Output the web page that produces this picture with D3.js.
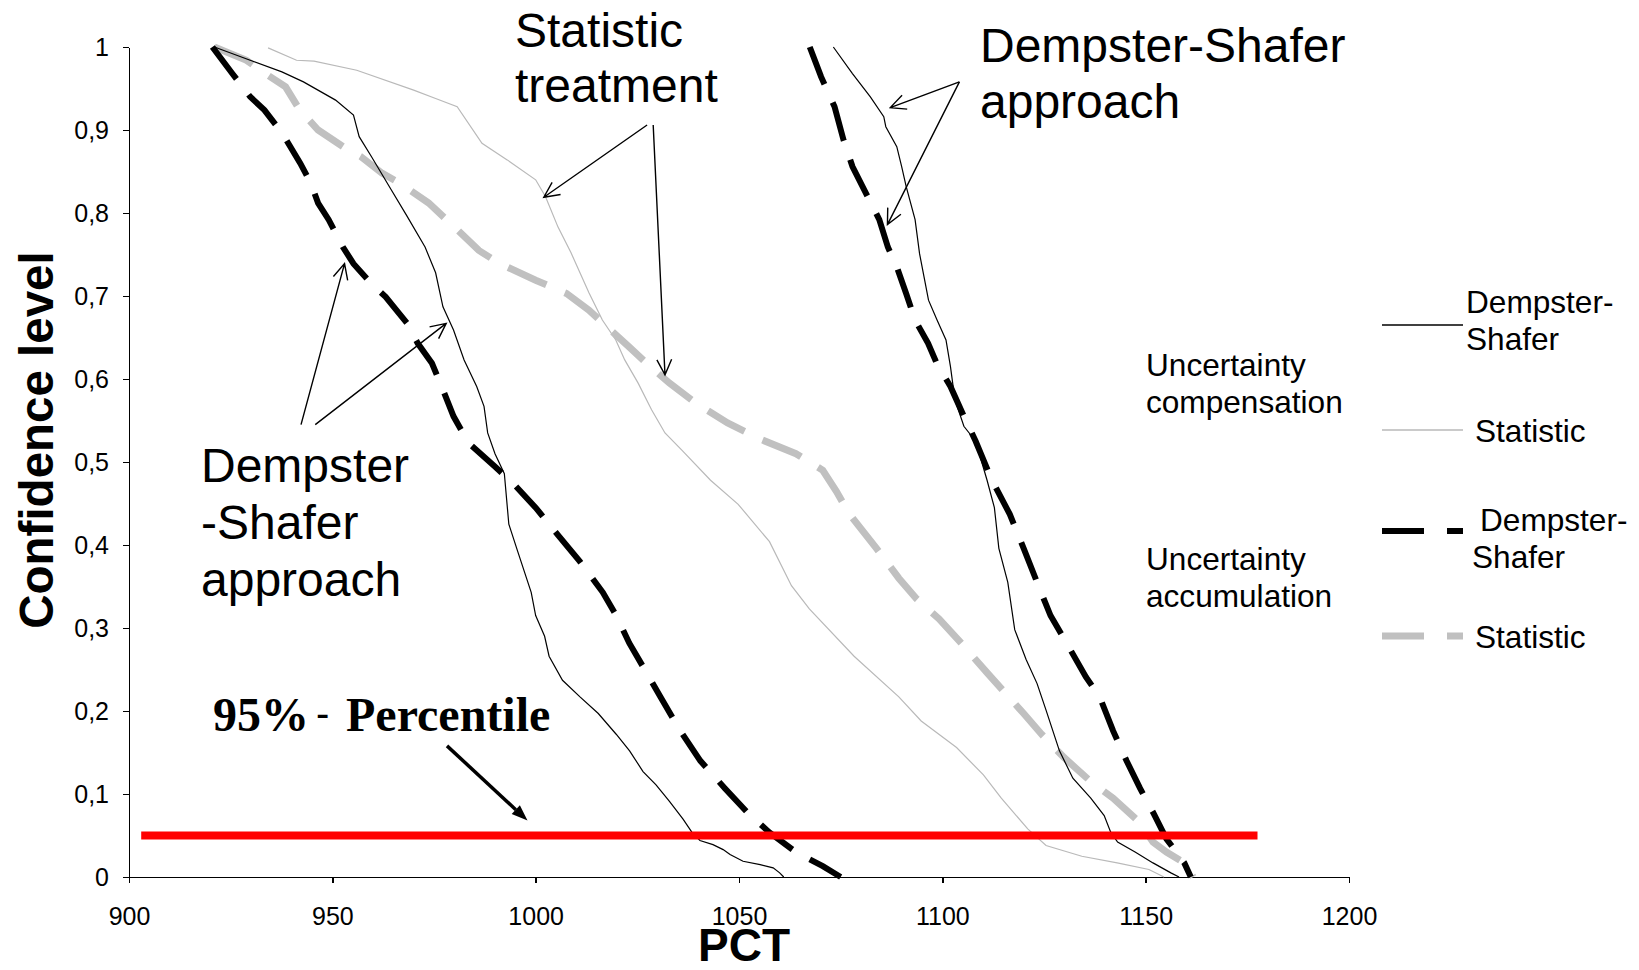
<!DOCTYPE html>
<html lang="en">
<head>
<meta charset="UTF-8">
<title>Confidence level vs PCT</title>
<style>
  body { margin: 0; background: #fff; }
  svg { display: block; font-family: Arial, "Liberation Sans", sans-serif; }
  .axis path, .axis line { stroke: #000; stroke-width: 1.5; shape-rendering: crispEdges; }
  .axis text { font-size: 25px; fill: #000; font-family: Arial, "Liberation Sans", sans-serif; }
  .note { font-size: 48px; fill: #000; }
  .legend text { font-size: 31.6px; fill: #000; }
</style>
</head>
<body>
<svg width="1639" height="970"></svg>
<script src="https://d3js.org/d3.v7.min.js"></script>
<script>
// axis ticks
const xTicks = [900, 950, 1000, 1050, 1100, 1150, 1200];
const yTicks = [0, 0.1, 0.2, 0.3, 0.4, 0.5, 0.6, 0.7, 0.8, 0.9, 1];
const yTickLabels = ["0", "0,1", "0,2", "0,3", "0,4", "0,5", "0,6", "0,7", "0,8", "0,9", "1"];

// [PCT, confidence]
// uncertainty compensation, Dempster-Shafer (lower / upper bound)
const compDSLow = [[921,1.0],[929.8,0.984],[937.6,0.970],[942.9,0.958],[950.8,0.936],[955.2,0.918],[956.6,0.892],[959.6,0.868],[964,0.832],[968.4,0.796],[972.8,0.759],[975.4,0.728],[977.2,0.687],[979.8,0.659],[982.4,0.623],[985.5,0.591],[987.3,0.567],[988.2,0.535],[990,0.51],[992.3,0.486],[993.4,0.425],[995.6,0.392],[998.9,0.343],[1000,0.315],[1002.2,0.290],[1003.3,0.266],[1006.6,0.237],[1010.9,0.217],[1015.4,0.197],[1019.8,0.172],[1023.1,0.152],[1026.4,0.127],[1029.6,0.111],[1032.9,0.091],[1036.2,0.070],[1038.4,0.054],[1040.4,0.044],[1043.6,0.039],[1046.1,0.033],[1047.8,0.027],[1051,0.019],[1055.2,0.015],[1058.4,0.011],[1060,0.005],[1061,0]];
const compDSHigh = [[1073.2,1.0],[1077.9,0.968],[1082.3,0.940],[1085.6,0.916],[1086.1,0.904],[1088.8,0.880],[1090,0.856],[1091.1,0.832],[1093.3,0.792],[1094.4,0.751],[1095.5,0.723],[1096.6,0.695],[1098.7,0.671],[1100.9,0.647],[1102,0.615],[1103.1,0.575],[1105.3,0.543],[1108.2,0.525],[1111,0.478],[1112.8,0.445],[1113.9,0.396],[1116.1,0.355],[1117.8,0.298],[1120.6,0.262],[1123.3,0.233],[1125.5,0.201],[1128.8,0.152],[1132.1,0.119],[1136.5,0.095],[1139.8,0.074],[1141.4,0.054],[1143.1,0.042],[1147.4,0.030],[1151.8,0.017],[1156.2,0.005],[1158.2,0]];
// uncertainty compensation, statistic
const compStat = [[934.2,0.999],[941.2,0.984],[945.5,0.983],[956,0.972],[970,0.948],[975.4,0.938],[980.7,0.928],[986.8,0.884],[993,0.864],[1000,0.840],[1002.4,0.820],[1005.5,0.783],[1008.7,0.752],[1013.1,0.704],[1016.4,0.671],[1019.7,0.647],[1021.9,0.623],[1025.2,0.595],[1028.5,0.563],[1031.8,0.535],[1036,0.514],[1043,0.478],[1049.8,0.449],[1057.5,0.404],[1062.9,0.351],[1067.3,0.323],[1078.3,0.266],[1089.3,0.217],[1094.8,0.188],[1103.5,0.156],[1110.1,0.123],[1114.5,0.095],[1121,0.058],[1125.5,0.038],[1134.3,0.025],[1143,0.017],[1150.8,0.009],[1154.5,0]];
// uncertainty accumulation, Dempster-Shafer (lower / upper bound)
const accDSLow = [[920.5,1.0],[925.4,0.968],[929.8,0.940],[933.3,0.924],[937.7,0.896],[942.1,0.860],[944.7,0.836],[946.5,0.812],[949.1,0.792],[952.6,0.759],[955.2,0.739],[959.6,0.715],[963.1,0.699],[968.4,0.667],[971,0.643],[974.5,0.619],[977.2,0.587],[979.8,0.555],[983.5,0.523],[990.1,0.494],[994.5,0.474],[1000,0.445],[1005.5,0.412],[1010.9,0.380],[1016.5,0.343],[1019.8,0.315],[1023,0.282],[1027.4,0.245],[1030.7,0.217],[1035.3,0.178],[1040.5,0.140],[1046.5,0.107],[1052,0.078],[1057.4,0.054],[1064,0.030],[1070.6,0.013],[1075,0]];
const accDSHigh = [[1067.4,1.0],[1070.2,0.964],[1073.5,0.928],[1075.7,0.888],[1077.9,0.856],[1081.2,0.824],[1084.5,0.792],[1086.6,0.759],[1088.8,0.735],[1091.1,0.703],[1093.3,0.671],[1096.5,0.643],[1098.6,0.619],[1102,0.591],[1105.3,0.555],[1108.2,0.525],[1112.2,0.478],[1116.6,0.437],[1120,0.396],[1123.3,0.355],[1126.6,0.315],[1131,0.278],[1135.3,0.241],[1138.7,0.217],[1142,0.176],[1145.3,0.140],[1148.6,0.107],[1151.8,0.078],[1155.1,0.046],[1159.5,0.017],[1161.1,0]];
// uncertainty accumulation, statistic
const accStat = [[921,1.0],[928.9,0.984],[933.2,0.969],[938.5,0.952],[942,0.924],[946.5,0.900],[952.6,0.880],[957,0.868],[962.2,0.848],[966.6,0.836],[973.7,0.812],[977.2,0.796],[980.7,0.780],[986,0.755],[991.2,0.739],[1000,0.719],[1007.6,0.703],[1013.1,0.683],[1017.5,0.663],[1022.9,0.639],[1027.3,0.619],[1032.9,0.595],[1039.4,0.571],[1047.2,0.547],[1055.5,0.527],[1064,0.510],[1070.6,0.490],[1073.9,0.465],[1077.2,0.437],[1083.8,0.396],[1089.3,0.360],[1093.7,0.335],[1099.2,0.311],[1104.6,0.282],[1111.2,0.245],[1115.6,0.221],[1120,0.197],[1124.4,0.172],[1129.9,0.144],[1136.5,0.115],[1142,0.095],[1148.5,0.066],[1151.8,0.042],[1155.1,0.030],[1159.5,0.017],[1161.7,0]];

// 95% percentile line
const percentileLevel = 0.05;
const percentileSpan = [903, 1177.5];

// annotation arrows [from, to] in data units
const noteArrows = [
  [[1027.4, 0.906], [1002, 0.819]],
  [[1028.9, 0.906], [1031.8, 0.605]],
  [[1104.2, 0.958], [1087.2, 0.927]],
  [[1104.2, 0.958], [1086.5, 0.786]],
  [[942.3, 0.545], [953, 0.739]],
  [[945.8, 0.545], [978, 0.667]]
];
const percentileArrow = [[978.2, 0.158], [998, 0.068]];

const margin = { top: 47, left: 129 },
  width = 1220,
  height = 830;

const svg = d3.select("svg");
const g = svg.append("g").attr("transform", `translate(${margin.left},${margin.top})`);

const x = d3.scaleLinear().domain([900, 1200]).range([0, width]);
const y = d3.scaleLinear().domain([0, 1]).range([height, 0]);

// axes
g.append("g")
  .attr("class", "axis")
  .attr("transform", `translate(0,${height})`)
  .call(d3.axisBottom(x).tickValues(xTicks).tickSize(6).tickSizeOuter(0).tickPadding(24).tickFormat(d3.format("d")));

g.append("g")
  .attr("class", "axis")
  .call(d3.axisLeft(y).tickValues(yTicks).tickSize(6).tickSizeOuter(0).tickPadding(14)
    .tickFormat((d, i) => yTickLabels[i]));

// curves
const line = d3.line().x(d => x(d[0])).y(d => y(d[1]));

const series = [
  { data: compStat, stroke: "#b9b9b9", width: 1.2, dash: null },
  { data: accStat, stroke: "#c0c0c0", width: 7, dash: "42,20" },
  { data: compDSLow, stroke: "#000", width: 1.2, dash: null },
  { data: compDSHigh, stroke: "#000", width: 1.2, dash: null },
  { data: accDSLow, stroke: "#000", width: 6, dash: "40,20" },
  { data: accDSHigh, stroke: "#000", width: 6, dash: "40,20" }
];

g.selectAll(".curve")
  .data(series)
  .enter().append("path")
  .attr("class", "curve")
  .attr("d", d => line(d.data))
  .attr("fill", "none")
  .attr("stroke", d => d.stroke)
  .attr("stroke-width", d => d.width)
  .attr("stroke-dasharray", d => d.dash)
  .attr("stroke-linejoin", "miter");

// red percentile line
g.append("line")
  .attr("x1", x(percentileSpan[0]))
  .attr("x2", x(percentileSpan[1]))
  .attr("y1", y(percentileLevel))
  .attr("y2", y(percentileLevel))
  .attr("stroke", "#ff0000")
  .attr("stroke-width", 8);

// open-headed arrows
function arrowPath(a, b, head, ang) {
  const x1 = x(a[0]), y1 = y(a[1]), x2 = x(b[0]), y2 = y(b[1]);
  const t = Math.atan2(y2 - y1, x2 - x1);
  const p = d3.path();
  p.moveTo(x1, y1); p.lineTo(x2, y2);
  p.moveTo(x2 - head * Math.cos(t - ang), y2 - head * Math.sin(t - ang));
  p.lineTo(x2, y2);
  p.lineTo(x2 - head * Math.cos(t + ang), y2 - head * Math.sin(t + ang));
  return p.toString();
}

g.selectAll(".note-arrow")
  .data(noteArrows)
  .enter().append("path")
  .attr("class", "note-arrow")
  .attr("d", d => arrowPath(d[0], d[1], 17, Math.PI / 7))
  .attr("fill", "none")
  .attr("stroke", "#000")
  .attr("stroke-width", 1.4);

// bold arrow for the percentile
(function () {
  const a = percentileArrow[0], b = percentileArrow[1];
  const x1 = x(a[0]), y1 = y(a[1]), x2 = x(b[0]), y2 = y(b[1]);
  const t = Math.atan2(y2 - y1, x2 - x1);
  const L = 16, W = 6;
  const bx = x2 - L * Math.cos(t), by = y2 - L * Math.sin(t);
  g.append("line")
    .attr("x1", x1).attr("y1", y1).attr("x2", bx).attr("y2", by)
    .attr("stroke", "#000").attr("stroke-width", 3.5);
  g.append("path")
    .attr("d", `M${x2},${y2}L${bx - W * Math.sin(t)},${by + W * Math.cos(t)}L${bx + W * Math.sin(t)},${by - W * Math.cos(t)}Z`)
    .attr("fill", "#000");
})();

// axis titles
svg.append("text")
  .attr("transform", "translate(53,440) rotate(-90)")
  .attr("text-anchor", "middle")
  .style("font-size", "47.5px")
  .style("font-weight", "bold")
  .text("Confidence level");

svg.append("text")
  .attr("x", 744)
  .attr("y", 961)
  .attr("text-anchor", "middle")
  .style("font-size", "46px")
  .style("font-weight", "bold")
  .text("PCT");

// annotation texts
function multiText(px, py, lines, step) {
  const t = svg.append("text").attr("class", "note").attr("x", px).attr("y", py);
  lines.forEach((s, i) => t.append("tspan").attr("x", px).attr("dy", i ? step : 0).text(s));
}
multiText(515, 47, ["Statistic", "treatment"], 55);
multiText(980, 62, ["Dempster-Shafer", "approach"], 56);
multiText(201, 482, ["Dempster", "-Shafer", "approach"], 57);

const pct = svg.append("text")
  .style("font-family", "'Times New Roman', 'Liberation Serif', serif")
  .style("font-weight", "bold")
  .style("font-size", "48px");
pct.append("tspan").attr("x", 213).attr("y", 731).text("95%");
pct.append("tspan")
  .attr("x", 316).attr("y", 727)
  .style("font-family", "Arial, 'Liberation Sans', sans-serif")
  .style("font-weight", "normal")
  .style("font-size", "40px")
  .text("-");
pct.append("tspan").attr("x", 346).attr("y", 731).text("Percentile");

// legend
const legend = svg.append("g").attr("class", "legend");

function legendText(px, py, lines) {
  const t = legend.append("text").attr("x", px).attr("y", py);
  lines.forEach((s, i) => t.append("tspan").attr("x", px).attr("dy", i ? 37 : 0).text(s));
}

legendText(1146, 376, ["Uncertainty", "compensation"]);
legendText(1146, 570, ["Uncertainty", "accumulation"]);

const legendRows = [
  { y: 325, s: series[2], label: ["Dempster-", "Shafer"], tx: 1466, ty: 313 },
  { y: 430, s: series[0], label: ["Statistic"], tx: 1475, ty: 442 },
  { y: 531, s: series[4], label: ["Dempster-", "Shafer"], tx: 1480, ty: 531, tx2: 1472 },
  { y: 636, s: series[1], label: ["Statistic"], tx: 1475, ty: 648 }
];

legendRows.forEach(r => {
  legend.append("line")
    .attr("x1", 1382).attr("x2", 1463)
    .attr("y1", r.y).attr("y2", r.y)
    .attr("stroke", r.s.stroke)
    .attr("stroke-width", r.s.dash ? r.s.width : 1.3)
    .attr("stroke-dasharray", r.s.dash ? "42,23" : null);
  const t = legend.append("text").attr("x", r.tx).attr("y", r.ty);
  r.label.forEach((s, i) => t.append("tspan")
    .attr("x", i && r.tx2 ? r.tx2 : r.tx)
    .attr("dy", i ? 37 : 0)
    .text(s));
});
</script>
</body>
</html>
